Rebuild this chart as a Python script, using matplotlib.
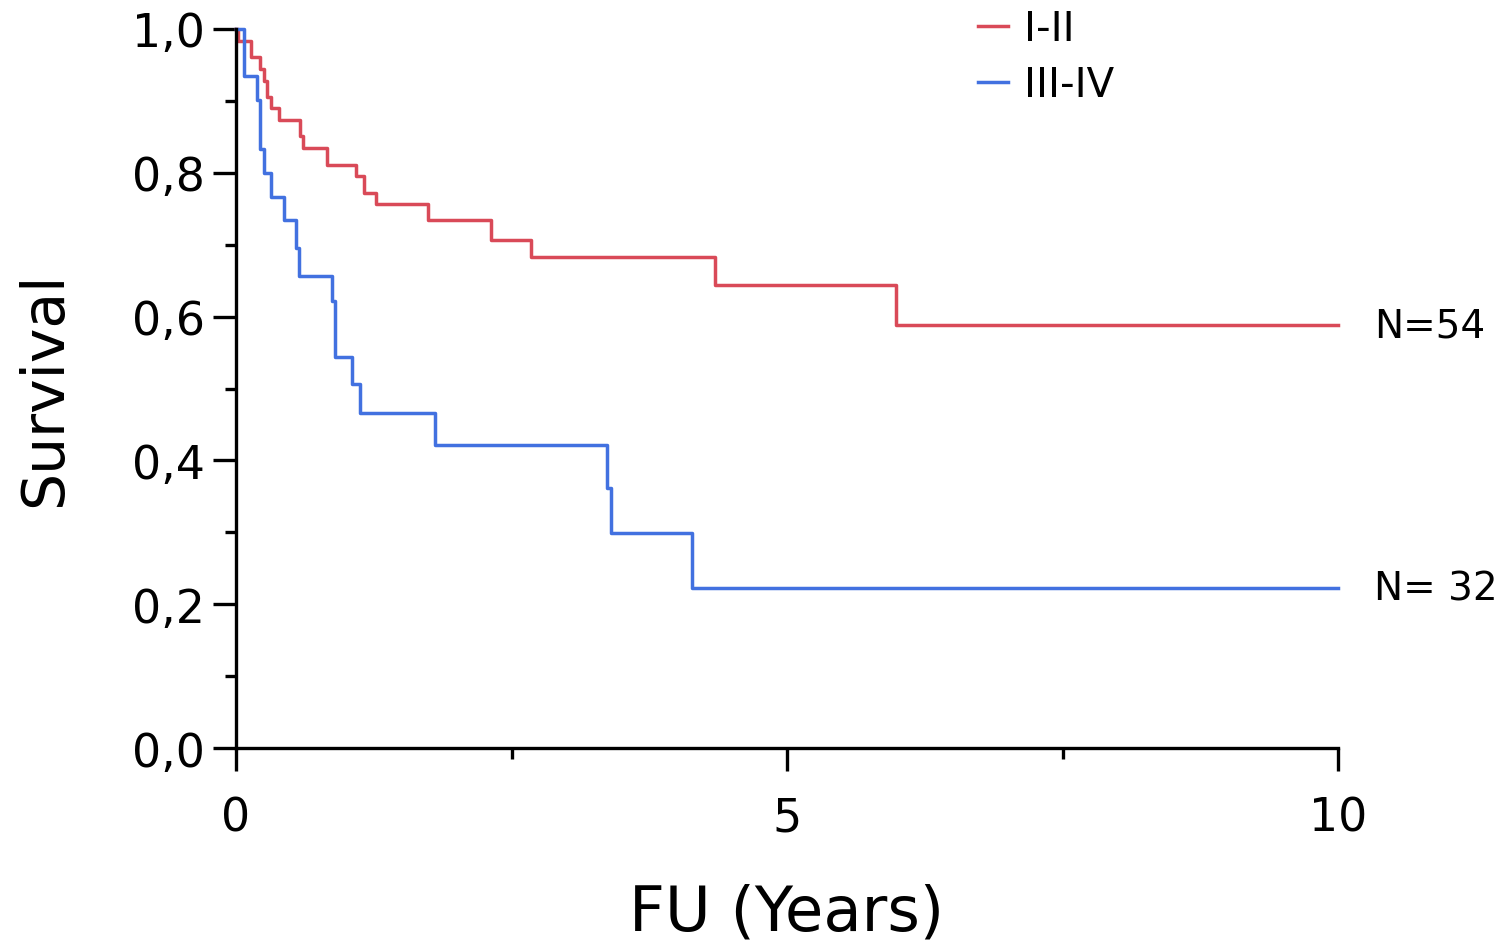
import matplotlib
matplotlib.use("Agg")
import matplotlib.pyplot as plt
from matplotlib.ticker import FixedLocator, FixedFormatter

# Kaplan-Meier steps (years, survival fraction)
t_early = [0, 0.02, 0.14, 0.22, 0.25, 0.28, 0.32, 0.39, 0.58, 0.61, 0.83,
           1.09, 1.16, 1.27, 1.74, 2.31, 2.68, 4.35, 5.99, 10]
s_early = [1.0, 0.984, 0.961, 0.944, 0.928, 0.905, 0.890, 0.873, 0.851, 0.834,
           0.811, 0.795, 0.772, 0.757, 0.734, 0.706, 0.683, 0.644, 0.588, 0.588]

t_late = [0, 0.07, 0.19, 0.22, 0.25, 0.32, 0.44, 0.54, 0.57, 0.87, 0.90,
          1.05, 1.125, 1.81, 3.37, 3.40, 4.135, 10]
s_late = [1.0, 0.934, 0.901, 0.833, 0.800, 0.767, 0.734, 0.695, 0.656, 0.622,
          0.544, 0.506, 0.466, 0.422, 0.361, 0.299, 0.222, 0.222]

groups = ["I-II", "III-IV"]
n_labels = ["N=54", "N= 32"]
colors = ["#d94a58", "#4271e0"]

y_ticks = [0.0, 0.2, 0.4, 0.6, 0.8, 1.0]
y_ticklabels = ["0,0", "0,2", "0,4", "0,6", "0,8", "1,0"]
x_ticks = [0, 5, 10]
x_ticklabels = ["0", "5", "10"]

plt.rcParams["font.family"] = "DejaVu Sans"

fig = plt.figure(figsize=(15.02, 9.45), dpi=100)
ax = fig.add_axes([236 / 1502, 1 - 749 / 945, (1338 - 236) / 1502, (749 - 30) / 945])

series = [(t_early, s_early), (t_late, s_late)]
for (t, s), lab, col, nl in zip(series, groups, colors, n_labels):
    ax.step(t, s, where="post", color=col, lw=2.5, label=lab, clip_on=False)
    ax.text(10.33, s[-1], nl, fontsize=28, va="center", ha="left", clip_on=False)

ax.set_xlim(0, 10)
ax.set_ylim(0, 1)

for side in ["top", "right"]:
    ax.spines[side].set_visible(False)
for side in ["left", "bottom"]:
    ax.spines[side].set_linewidth(2.4)

ax.yaxis.set_major_locator(FixedLocator(y_ticks))
ax.yaxis.set_major_formatter(FixedFormatter(y_ticklabels))
ax.yaxis.set_minor_locator(FixedLocator([0.1, 0.3, 0.5, 0.7, 0.9]))
ax.xaxis.set_major_locator(FixedLocator(x_ticks))
ax.xaxis.set_major_formatter(FixedFormatter(x_ticklabels))
ax.xaxis.set_minor_locator(FixedLocator([2.5, 7.5]))

ax.tick_params(axis="both", which="major", length=16.5, width=2.4, labelsize=33)
ax.tick_params(axis="both", which="minor", length=8, width=2.4)
ax.tick_params(axis="y", which="major", pad=6)
ax.tick_params(axis="x", which="major", pad=18)

ax.set_ylabel("Survival", fontsize=42, labelpad=42)
ax.set_xlabel("FU (Years)", fontsize=45, labelpad=30)

ax.legend(loc="upper left", bbox_to_anchor=(968 / 1502, 1.0), bbox_transform=fig.transFigure,
          frameon=False, fontsize=29, handlelength=0.75, handletextpad=0.4,
          labelspacing=0.4, borderpad=0.25, borderaxespad=0)

fig.savefig("out.png", dpi=100)
